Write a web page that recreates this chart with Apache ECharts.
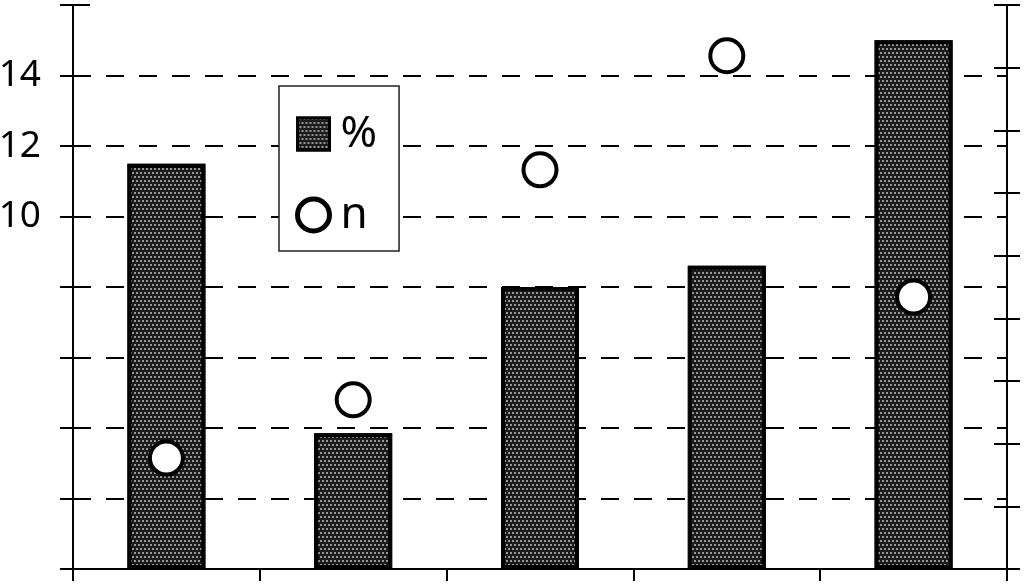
<!DOCTYPE html>
<html>
<head>
<meta charset="utf-8">
<script src="https://cdn.jsdelivr.net/npm/echarts@6/dist/echarts.min.js"></script>
<style>
html,body{margin:0;padding:0;background:#fff;}
#chart{width:1024px;height:587px;}
</style>
</head>
<body>
<div id="chart"></div>
<script>
const categories = ['1', '2', '3', '4', '5'];
const percentValues = [11.5, 3.85, 8.0, 8.6, 15.0];
const nValues = [1.77, 2.7, 6.37, 8.19, 4.34];
const leftTickLabels = ['10', '12', '14'];

const chart = echarts.init(document.getElementById('chart'));
const FONT = 'Noto Sans';
const axisLineStyle = { color: '#000', width: 2 };
const barDecal = {
  symbol: 'rect',
  symbolSize: 1,
  color: 'rgba(150,150,150,1)',
  dashArrayX: [[2, 2], [0, 2, 2, 0]],
  dashArrayY: [2, 2],
  rotation: 0
};

const option = {
  backgroundColor: '#fff',
  animation: false,
  grid: { left: 73, right: 17, top: 5, bottom: 18, containLabel: false, outerBoundsMode: 'none' },
  legend: {
    left: 279, top: 86,
    orient: 'vertical',
    backgroundColor: '#fff',
    borderColor: '#222', borderWidth: 1.5,
    padding: [26, 22, 14, 16],
    itemWidth: 32, itemHeight: 32, itemGap: 37,
    textStyle: { fontFamily: FONT, fontSize: 44, color: '#000', lineHeight: 34, padding: [0, 0, 0, 6] },
    data: [
      { name: '%', icon: 'rect', itemStyle: { color: '#1c1c1c', borderColor: '#000', borderWidth: 3, decal: barDecal } },
      { name: 'n', icon: 'circle', itemStyle: { color: '#fff', borderColor: '#000', borderWidth: 5 } }
    ]
  },
  xAxis: {
    type: 'category',
    data: categories,
    boundaryGap: true,
    axisLine: { lineStyle: axisLineStyle },
    axisTick: { show: true, length: 12, lineStyle: { color: '#000', width: 2 } },
    axisLabel: { show: false },
    splitLine: { show: false }
  },
  yAxis: [
    {
      type: 'value', position: 'left', min: 0, max: 16, interval: 2,
      axisLine: { show: true, lineStyle: axisLineStyle },
      axisTick: { show: true, length: 13, lineStyle: { color: '#000', width: 2 } },
      axisLabel: {
        margin: 32, fontFamily: FONT, fontSize: 37, color: '#000',
        formatter: v => leftTickLabels.indexOf(String(v)) >= 0 ? String(v) : ''
      },
      splitLine: { show: true, showMaxLine: false, showMinLine: false, lineStyle: { color: '#000', width: 2, type: [18, 15] } }
    },
    {
      type: 'value', position: 'right', min: 0, max: 9, interval: 1,
      axisLine: { show: true, lineStyle: axisLineStyle },
      axisTick: { show: true, length: 13, lineStyle: { color: '#000', width: 2 } },
      axisLabel: { show: false },
      splitLine: { show: false }
    },
    {
      type: 'value', position: 'left', min: 0, max: 16, interval: 2,
      axisLine: { show: false },
      axisTick: { show: true, inside: true, length: 17, lineStyle: { color: '#000', width: 2 } },
      axisLabel: { show: false },
      splitLine: { show: false }
    },
    {
      type: 'value', position: 'right', min: 0, max: 9, interval: 1,
      axisLine: { show: false },
      axisTick: { show: true, inside: true, length: 13, lineStyle: { color: '#000', width: 2 } },
      axisLabel: { show: false },
      splitLine: { show: false }
    }
  ],
  series: [
    {
      name: '%',
      type: 'bar',
      yAxisIndex: 0,
      data: percentValues,
      barWidth: 78,
      itemStyle: { color: '#1c1c1c', borderColor: '#000', borderWidth: 4, decal: barDecal }
    },
    {
      name: 'n',
      type: 'scatter',
      yAxisIndex: 1,
      data: nValues,
      symbol: 'circle',
      symbolSize: 33,
      z: 5,
      itemStyle: { color: '#fff', borderColor: '#000', borderWidth: 4, opacity: 1 }
    }
  ]
};
chart.setOption(option);
</script>
</body>
</html>
